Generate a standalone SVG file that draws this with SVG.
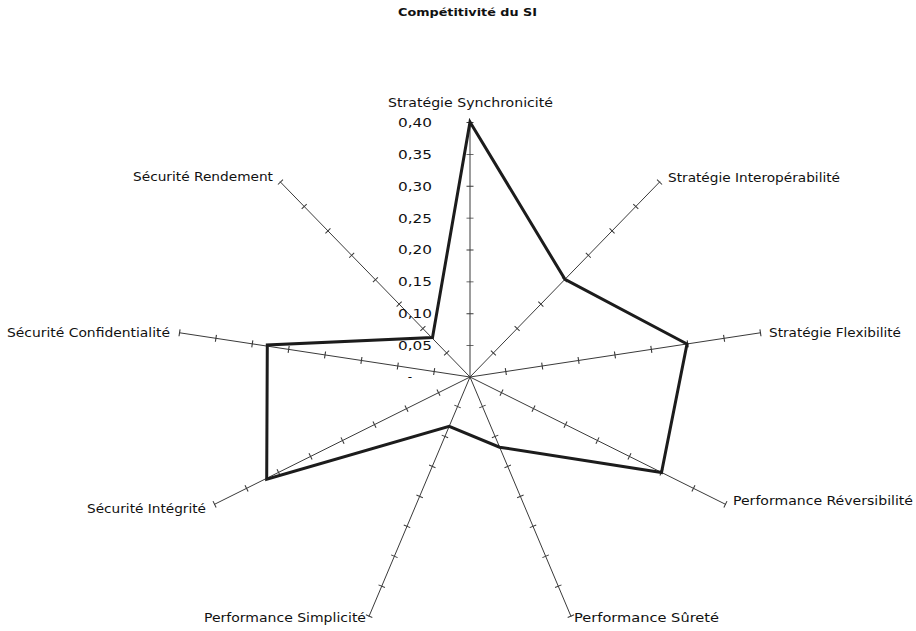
<svg xmlns="http://www.w3.org/2000/svg" width="916" height="631" viewBox="0 0 916 631">
  <style>
    text { font-family: "DejaVu Sans", "Liberation Sans", sans-serif; font-size: 12px; fill: #111; }
    .title { font-weight: bold; font-size: 11px; }
    .axis { stroke: #3a3a3a; stroke-width: 1; fill: none; }
    .tick { stroke: #3a3a3a; stroke-width: 7; fill: none; stroke-dasharray: 0.3 9.7; stroke-dashoffset: 0.3; }
    .series { stroke: #1c1c1c; stroke-width: 3; fill: none; stroke-linejoin: miter; }
    .val { text-anchor: end; }
  </style>
  <rect width="916" height="631" fill="#fff"/>

  <text id="title" class="title" x="467.5" y="16" text-anchor="middle" textLength="139" lengthAdjust="spacingAndGlyphs">Compétitivité du SI</text>

  <!-- radial axes, centre (470,377); scale 0.40 at the end of each spoke -->
  <g id="axes">
    <path class="axis" d="M470 377 L470 122"/>
    <path class="axis" d="M470 377 L659.9 181.7"/>
    <path class="axis" d="M470 377 L761 332.7"/>
    <path class="axis" d="M470 377 L725.9 504.5"/>
    <path class="axis" d="M470 377 L571.1 616.6"/>
    <path class="axis" d="M470 377 L368.9 616.6"/>
    <path class="axis" d="M470 377 L214.1 504.5"/>
    <path class="axis" d="M470 377 L179 332.7"/>
    <path class="axis" d="M470 377 L280.1 181.7"/>
  </g>

  <!-- tick marks every 0.05 (8 per spoke) drawn as dashes across a wide stroke -->
  <g id="ticks">
    <path class="tick" pathLength="80" d="M470 377 L470 122"/>
    <path class="tick" pathLength="80" d="M470 377 L659.9 181.7"/>
    <path class="tick" pathLength="80" d="M470 377 L761 332.7"/>
    <path class="tick" pathLength="80" d="M470 377 L725.9 504.5"/>
    <path class="tick" pathLength="80" d="M470 377 L571.1 616.6"/>
    <path class="tick" pathLength="80" d="M470 377 L368.9 616.6"/>
    <path class="tick" pathLength="80" d="M470 377 L214.1 504.5"/>
    <path class="tick" pathLength="80" d="M470 377 L179 332.7"/>
    <path class="tick" pathLength="80" d="M470 377 L280.1 181.7"/>
  </g>

  <!-- value scale on the vertical spoke -->
  <g id="scale">
    <text class="val" x="432" y="127" textLength="34" lengthAdjust="spacingAndGlyphs">0,40</text>
    <text class="val" x="432" y="159" textLength="34" lengthAdjust="spacingAndGlyphs">0,35</text>
    <text class="val" x="432" y="191" textLength="34" lengthAdjust="spacingAndGlyphs">0,30</text>
    <text class="val" x="432" y="223" textLength="34" lengthAdjust="spacingAndGlyphs">0,25</text>
    <text class="val" x="432" y="254" textLength="34" lengthAdjust="spacingAndGlyphs">0,20</text>
    <text class="val" x="432" y="286" textLength="34" lengthAdjust="spacingAndGlyphs">0,15</text>
    <text class="val" x="432" y="318" textLength="34" lengthAdjust="spacingAndGlyphs">0,10</text>
    <text class="val" x="432" y="350" textLength="34" lengthAdjust="spacingAndGlyphs">0,05</text>
    <text x="410" y="381" text-anchor="middle">-</text>
  </g>

  <!-- category labels -->
  <g id="labels">
    <text id="lbl-synchronicite" x="470.5" y="107" text-anchor="middle" textLength="165" lengthAdjust="spacingAndGlyphs">Stratégie Synchronicité</text>
    <text id="lbl-interoperabilite" x="668" y="182" textLength="172" lengthAdjust="spacingAndGlyphs">Stratégie Interopérabilité</text>
    <text id="lbl-flexibilite" x="769" y="337" textLength="132" lengthAdjust="spacingAndGlyphs">Stratégie Flexibilité</text>
    <text id="lbl-reversibilite" x="733" y="505" textLength="180" lengthAdjust="spacingAndGlyphs">Performance Réversibilité</text>
    <text id="lbl-surete" x="574" y="622" textLength="145" lengthAdjust="spacingAndGlyphs">Performance Sûreté</text>
    <text id="lbl-simplicite" x="366" y="622" text-anchor="end" textLength="162" lengthAdjust="spacingAndGlyphs">Performance Simplicité</text>
    <text id="lbl-integrite" x="206" y="513" text-anchor="end" textLength="119" lengthAdjust="spacingAndGlyphs">Sécurité Intégrité</text>
    <text id="lbl-confidentialite" x="170" y="337" text-anchor="end" textLength="163" lengthAdjust="spacingAndGlyphs">Sécurité Confidentialité</text>
    <text id="lbl-rendement" x="273" y="181" text-anchor="end" textLength="140" lengthAdjust="spacingAndGlyphs">Sécurité Rendement</text>
  </g>

  <!-- data series -->
  <g id="series">
    <polygon class="series" points="470,122 565,279.4 687,344 661.5,472.6 499.6,447.2 449.2,426.4 266.7,479.3 267.3,345 432.5,337.6"/>
  </g>
</svg>
